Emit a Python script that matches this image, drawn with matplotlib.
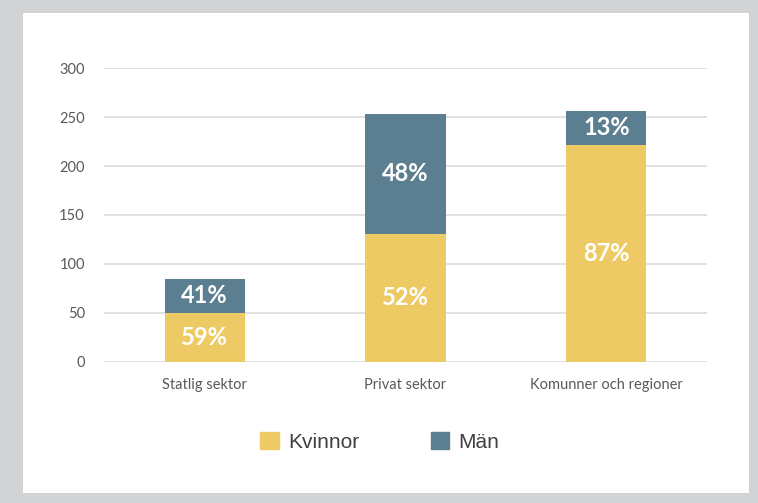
import matplotlib
matplotlib.use('Agg')
import matplotlib.pyplot as plt
import matplotlib.patches as patches
import numpy as np

categories = ['Statlig sektor', 'Privat sektor', 'Komunner och regioner']
kvinnor = [50, 131, 222]
man = [35, 122, 34]
kvinnor_pct = ['59%', '52%', '87%']
man_pct = ['41%', '48%', '13%']
yticks = [0, 50, 100, 150, 200, 250, 300]

yellow = '#EECA65'
blue = '#5B7E90'

W, H = 758, 503
fig = plt.figure(figsize=(W / 100, H / 100), dpi=100)
fig.patch.set_facecolor('#D2D3D5')
# white panel
fig.patches.append(patches.Rectangle((23 / W, 1 - 493 / H), (749 - 23) / W, (493 - 13) / H,
                                     transform=fig.transFigure, facecolor='white',
                                     edgecolor='none', zorder=-5))

ax = fig.add_axes([104.3 / W, 1 - 361.7 / H, (706.7 - 104.3) / W, (361.7 - 68.3) / H])
ax.set_facecolor('none')
ax.set_zorder(2)

x = np.arange(len(categories))
ax.bar(x, kvinnor, width=0.4, color=yellow, zorder=3)
ax.bar(x, man, width=0.4, bottom=kvinnor, color=blue, zorder=3)

for i in range(len(categories)):
    ax.text(x[i], kvinnor[i] / 2, kvinnor_pct[i], ha='center', va='center',
            color='white', fontsize=17, fontweight='bold', family='Lato', zorder=4)
    ax.text(x[i], kvinnor[i] + man[i] / 2, man_pct[i], ha='center', va='center',
            color='white', fontsize=17, fontweight='bold', family='Lato', zorder=4)

ax.set_xlim(-0.5, 2.5)
ax.set_ylim(0, 300)
ax.set_yticks(yticks)
ax.set_xticks(x)
ax.set_xticklabels(categories)
for lab in ax.get_xticklabels() + ax.get_yticklabels():
    lab.set_family('Lato')
    lab.set_fontsize(10.5)
    lab.set_color('#595959')
ax.tick_params(axis='both', length=0)
ax.tick_params(axis='y', pad=14)
ax.tick_params(axis='x', pad=12)
ax.yaxis.grid(True, color='#D9D9D9', linewidth=1.1, zorder=0)
ax.set_axisbelow(True)
for s in ax.spines.values():
    s.set_visible(False)

# legend
handles = [patches.Patch(color=yellow), patches.Patch(color=blue)]
leg = fig.legend(handles, ['Kvinnor', 'Män'], loc='center', ncol=2,
                 bbox_to_anchor=(380 / W, 1 - 442 / H), frameon=False,
                 prop={'family': 'Liberation Sans', 'size': 15},
                 handlelength=0.9, handleheight=0.9, handletextpad=0.45, columnspacing=3.4)
for t in leg.get_texts():
    t.set_color('#404040')

fig.savefig('out.png', dpi=100, facecolor=fig.get_facecolor())
